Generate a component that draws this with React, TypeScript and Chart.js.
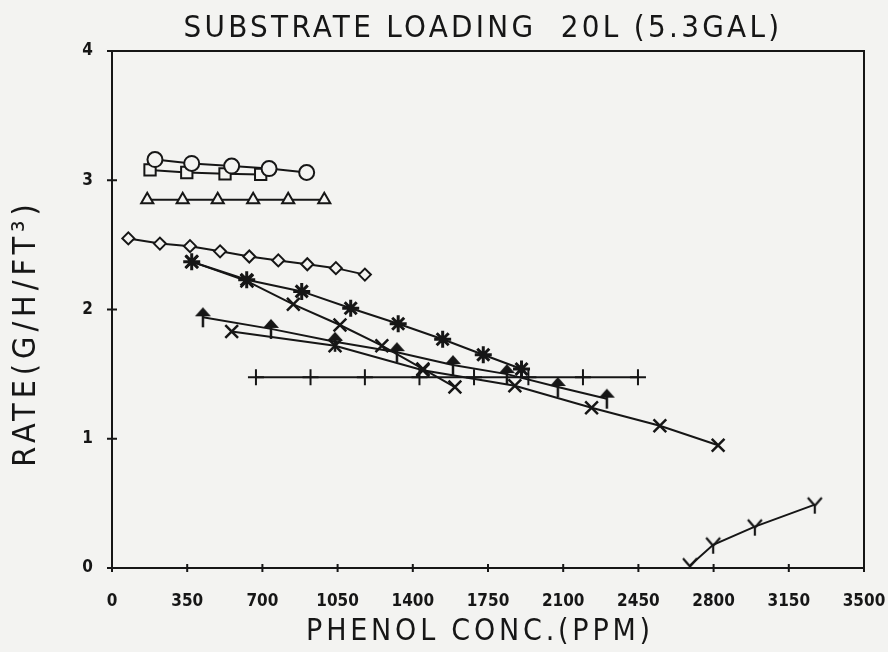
import React, { useEffect, useRef } from "react";
import { Chart, registerables } from "chart.js";

Chart.register(...registerables);

const TITLE = "SUBSTRATE LOADING  20L (5.3GAL)";
const X_TITLE = "PHENOL CONC.(PPM)";
const Y_TITLE = "RATE(G/H/FT³)";

const X_MIN = 0;
const X_MAX = 3500;
const X_STEP = 350;
const Y_MIN = 0;
const Y_MAX = 4;
const Y_STEP = 1;

// circle series (circle + cross overlay on first four)
const circleX = [200, 371, 557, 731, 906];
const circleY = [3.16, 3.13, 3.11, 3.09, 3.06];
// squares
const squareX = [177, 348, 526, 692];
const squareY = [3.08, 3.06, 3.05, 3.045];
// triangles
const triX = [164, 329, 492, 657, 820, 988];
const triY = [2.85, 2.85, 2.85, 2.85, 2.85, 2.85];
// diamonds
const diaX = [76, 223, 363, 503, 639, 774, 909, 1042, 1177];
const diaY = [2.55, 2.51, 2.49, 2.45, 2.41, 2.38, 2.35, 2.32, 2.27];
// asterisks
const starX = [371, 627, 883, 1111, 1332, 1539, 1728, 1906];
const starY = [2.37, 2.23, 2.14, 2.01, 1.89, 1.77, 1.65, 1.54];
// crosses, run A
const xAX = [371, 628, 844, 1061, 1256, 1447, 1596];
const xAY = [2.37, 2.22, 2.04, 1.88, 1.72, 1.54, 1.40];
// crosses, run B
const xBX = [557, 1038, 1447, 1875, 2232, 2550, 2821];
const xBY = [1.83, 1.72, 1.53, 1.41, 1.24, 1.10, 0.95];
// arrow markers
const arrX = [423, 740, 1038, 1326, 1587, 1838, 2075, 2303];
const arrY = [1.94, 1.85, 1.75, 1.67, 1.57, 1.50, 1.40, 1.31];
// plus markers
const plusX = [670, 924, 1177, 1431, 1685, 1938, 2192, 2448];
const plusY = [1.475, 1.475, 1.475, 1.475, 1.475, 1.475, 1.475, 1.475];
// Y markers
const yMarkX = [2690, 2798, 2992, 3271];
const yMarkY = [0.02, 0.18, 0.32, 0.49];

const INK = "#161616";
const BG = "#f3f3f1";
const LABEL_FONT = "'DejaVu Sans Condensed', 'DejaVu Sans'";
const TEXT_FONT = "'DejaVu Sans Condensed', 'DejaVu Sans'";

function pts(xs: number[], ys: number[]) {
  return xs.map((x, i) => ({ x, y: ys[i] }));
}

function makeArrow(): HTMLCanvasElement {
  const c = document.createElement("canvas");
  c.width = 20;
  c.height = 24;
  const g = c.getContext("2d")!;
  g.fillStyle = INK;
  g.strokeStyle = INK;
  g.lineWidth = 2.5;
  g.beginPath();
  g.moveTo(10, 2);
  g.lineTo(18, 11);
  g.lineTo(2, 11);
  g.closePath();
  g.fill();
  g.beginPath();
  g.moveTo(10, 10);
  g.lineTo(10, 22);
  g.stroke();
  return c;
}

function makeY(): HTMLCanvasElement {
  const c = document.createElement("canvas");
  c.width = 20;
  c.height = 20;
  const g = c.getContext("2d")!;
  g.strokeStyle = INK;
  g.lineWidth = 2.2;
  g.beginPath();
  g.moveTo(3, 3);
  g.lineTo(10, 11);
  g.lineTo(17, 3);
  g.moveTo(10, 11);
  g.lineTo(10, 19);
  g.stroke();
  return c;
}

const framePlugin = {
  id: "frame",
  beforeDraw(chart: any) {
    const { ctx, width, height } = chart;
    ctx.save();
    ctx.fillStyle = BG;
    ctx.fillRect(0, 0, width, height);
    ctx.restore();
  },
  beforeDatasetsDraw(chart: any) {
    const { ctx, chartArea: a, scales } = chart;
    const x = scales.x;
    const y = scales.y;
    ctx.save();
    ctx.strokeStyle = INK;
    ctx.lineWidth = 2;
    ctx.strokeRect(a.left, a.top, a.right - a.left, a.bottom - a.top);
    ctx.beginPath();
    x.ticks.forEach((t: any) => {
      const px = x.getPixelForValue(t.value);
      ctx.moveTo(px, a.bottom - 4);
      ctx.lineTo(px, a.bottom + 4);
    });
    y.ticks.forEach((t: any) => {
      const py = y.getPixelForValue(t.value);
      ctx.moveTo(a.left - 5, py);
      ctx.lineTo(a.left + 5, py);
    });
    ctx.stroke();
    ctx.restore();
  },
  afterDraw(chart: any) {
    const { ctx } = chart;
    ctx.save();
    ctx.fillStyle = INK;
    ctx.textAlign = "center";
    ctx.textBaseline = "middle";
    ctx.font = "31px " + TEXT_FONT;
    (ctx as any).letterSpacing = "3.3px";
    ctx.fillText(TITLE, 483, 29);
    ctx.font = "30px " + TEXT_FONT;
    (ctx as any).letterSpacing = "3.8px";
    ctx.fillText(X_TITLE, 480, 632);
    ctx.translate(27, 333);
    ctx.rotate(-Math.PI / 2);
    ctx.font = "32px " + TEXT_FONT;
    (ctx as any).letterSpacing = "5px";
    ctx.fillText(Y_TITLE, 0, 0);
    ctx.restore();
  },
};

export default function App() {
  const ref = useRef<HTMLCanvasElement>(null);

  useEffect(() => {
    if (!ref.current) return;
    const arrow = makeArrow();
    const yMark = makeY();
    const base = {
      borderColor: INK,
      borderWidth: 2,
      backgroundColor: BG,
      pointBorderColor: INK,
      pointBorderWidth: 2,
      showLine: true,
      tension: 0,
    };
    const chart = new Chart(ref.current, {
      type: "scatter",
      data: {
        datasets: [
          { ...base, label: "circle", data: pts(circleX, circleY), pointStyle: "circle", pointRadius: 7.5, pointBackgroundColor: BG },
          { ...base, label: "circle-cross", data: pts(circleX.slice(0, 4), circleY.slice(0, 4)), showLine: false, pointStyle: "cross", pointRadius: 7.5 },
          { ...base, label: "square", data: pts(squareX, squareY), pointStyle: "rect", pointRadius: 8, pointBackgroundColor: BG },
          { ...base, label: "triangle", data: pts(triX, triY), pointStyle: "triangle", pointRadius: 7, pointBackgroundColor: BG },
          { ...base, label: "diamond", data: pts(diaX, diaY), pointStyle: "rectRot", pointRadius: 6, pointBackgroundColor: BG },
          { ...base, label: "star", data: pts(starX, starY), pointStyle: "star", pointRadius: 8.5, pointBorderWidth: 3 },
          { ...base, label: "x-a", data: pts(xAX, xAY), pointStyle: "crossRot", pointRadius: 9, pointBorderWidth: 2.5 },
          { ...base, label: "x-b", data: pts(xBX, xBY), pointStyle: "crossRot", pointRadius: 9, pointBorderWidth: 2.5 },
          { ...base, label: "arrow", data: pts(arrX, arrY), pointStyle: arrow as any, pointRadius: 10 },
          { ...base, label: "plus", data: pts(plusX, plusY), pointStyle: "cross", pointRadius: 8 },
          { ...base, label: "y", data: pts(yMarkX, yMarkY), pointStyle: yMark as any, pointRadius: 9 },
        ],
      },
      options: {
        animation: false,
        responsive: false,
        layout: { padding: { left: 0, right: 24, top: 51, bottom: 0 } },
        plugins: { legend: { display: false }, tooltip: { enabled: false }, title: { display: false } },
        scales: {
          x: {
            type: "linear",
            min: X_MIN,
            max: X_MAX,
            grid: { display: false },
            border: { display: false },
            ticks: {
              stepSize: X_STEP,
              color: INK,
              padding: 15,
              font: { family: LABEL_FONT, size: 17, weight: "bold" },
              callback: (v: any) => String(v),
            },
            afterFit: (s: any) => {
              s.height = 84;
              s.paddingLeft = 0;
              s.paddingRight = 0;
            },
          },
          y: {
            type: "linear",
            min: Y_MIN,
            max: Y_MAX,
            grid: { display: false },
            border: { display: false },
            ticks: {
              stepSize: Y_STEP,
              color: INK,
              padding: 11,
              font: { family: LABEL_FONT, size: 17, weight: "bold" },
              callback: (v: any) => String(v),
            },
            afterFit: (s: any) => {
              s.width = 112;
              s.paddingTop = 0;
              s.paddingBottom = 0;
            },
          },
        },
      },
      plugins: [framePlugin],
    });
    return () => chart.destroy();
  }, []);

  return (
    <div style={{ position: "fixed", left: 0, top: 0, width: 888, height: 652, background: BG }}>
      <canvas ref={ref} width={888} height={652} style={{ display: "block" }} />
    </div>
  );
}
